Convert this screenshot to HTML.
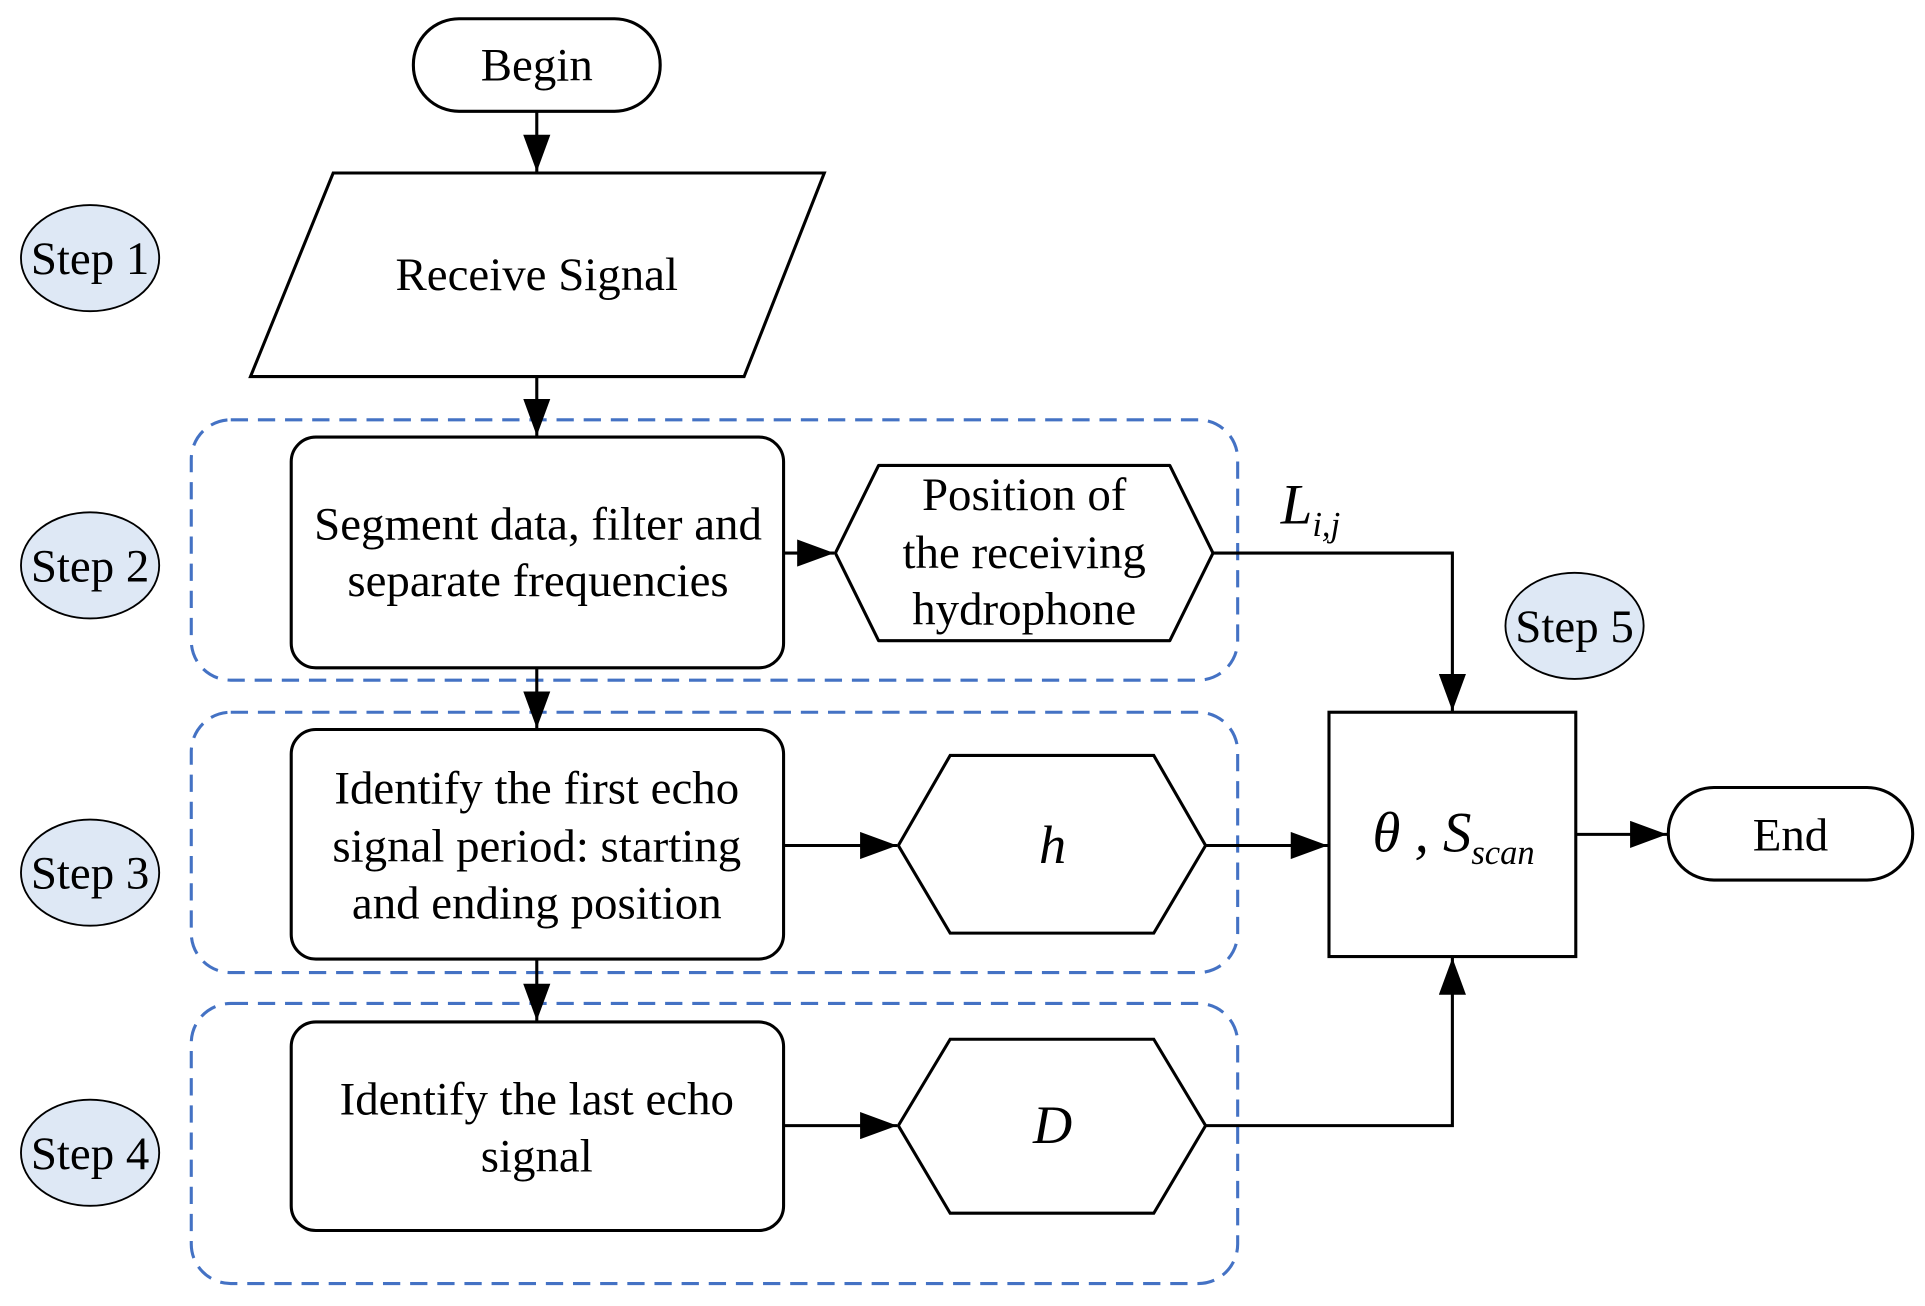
<!DOCTYPE html>
<html><head><meta charset="utf-8"><style>html,body{margin:0;padding:0;background:#fff}svg{display:block}</style></head>
<body>
<svg width="1925" height="1306" viewBox="0 0 1560 1058" xmlns="http://www.w3.org/2000/svg" font-family="Liberation Serif, serif" font-size="38" text-anchor="middle">
<defs><marker id="b" viewBox="0 0 10 10" refX="10" refY="5" markerWidth="30" markerHeight="22" markerUnits="userSpaceOnUse" orient="auto" preserveAspectRatio="none"><path d="M0,0L10,5L0,10z"/></marker></defs>
<g fill="none" stroke="#4472c4" stroke-width="2.5" stroke-dasharray="14,8">
<rect x="155" y="340" width="848" height="211" rx="32"/>
<rect x="155" y="577" width="848" height="211" rx="32"/>
<rect x="155" y="813" width="848" height="227" rx="32"/>
</g>
<g fill="#dee8f5" stroke="#000" stroke-width="1.5">
<ellipse cx="73" cy="209" rx="56" ry="43"/><ellipse cx="73" cy="458" rx="56" ry="43"/>
<ellipse cx="73" cy="707" rx="56" ry="43"/><ellipse cx="73" cy="934" rx="56" ry="43"/>
<ellipse cx="1276" cy="507" rx="56" ry="43"/>
</g>
<g font-size="38"><text x="73" y="222">Step 1</text><text x="73" y="471">Step 2</text><text x="73" y="720">Step 3</text><text x="73" y="947">Step 4</text><text x="1276" y="520">Step 5</text></g>
<g fill="none" stroke="#000" stroke-width="2.5">
<rect x="335" y="15" width="200" height="75" rx="37"/>
<path d="M270,140H668L603,305H203Z"/>
<rect x="236" y="354" width="399" height="187" rx="20"/>
<rect x="236" y="591" width="399" height="186" rx="20"/>
<rect x="236" y="828" width="399" height="169" rx="20"/>
<path d="M677,448L712,377H948L983,448L948,519H712Z" stroke-linejoin="round"/>
<path d="M728,685L770,612H935L977,685L935,756H770Z"/>
<path d="M728,912L770,842H935L977,912L935,983H770Z"/>
<rect x="1077" y="577" width="200" height="198"/>
<rect x="1352" y="638" width="198" height="75" rx="37"/>
</g>
<g fill="none" stroke="#000" stroke-width="2.5">
<path d="M435,90V139" marker-end="url(#b)"/>
<path d="M435,305V353" marker-end="url(#b)"/>
<path d="M435,541V590" marker-end="url(#b)"/>
<path d="M435,777V827" marker-end="url(#b)"/>
<path d="M635,448H676" marker-end="url(#b)"/>
<path d="M635,685H727" marker-end="url(#b)"/>
<path d="M635,912H727" marker-end="url(#b)"/>
<path d="M983,448H1177V576" marker-end="url(#b)"/>
<path d="M977,685H1076" marker-end="url(#b)"/>
<path d="M977,912H1177V776" marker-end="url(#b)"/>
<path d="M1277,676H1351" marker-end="url(#b)"/>
</g>
<text x="435" y="65">Begin</text>
<text x="435" y="235">Receive Signal</text>
<text x="436" y="437">Segment data, filter and</text><text x="436" y="483">separate frequencies</text>
<text x="830" y="413">Position of</text><text x="830" y="460">the receiving</text><text x="830" y="506">hydrophone</text>
<text x="435" y="651">Identify the first echo</text><text x="435" y="698">signal period: starting</text><text x="435" y="744">and ending position</text>
<text x="435" y="903">Identify the last echo</text><text x="435" y="949">signal</text>
<text x="853" y="699" font-style="italic" font-size="44">h</text>
<text x="853" y="926" font-style="italic" font-size="44">D</text>
<text x="1062" y="424" font-style="italic" font-size="46">L<tspan font-size="28" dy="10">i,j</tspan></text>
<text x="1178" y="690" font-style="italic" font-size="46">θ , S<tspan font-size="28" dy="10">scan</tspan></text>
<text x="1451" y="689">End</text>
</svg>
</body></html>
